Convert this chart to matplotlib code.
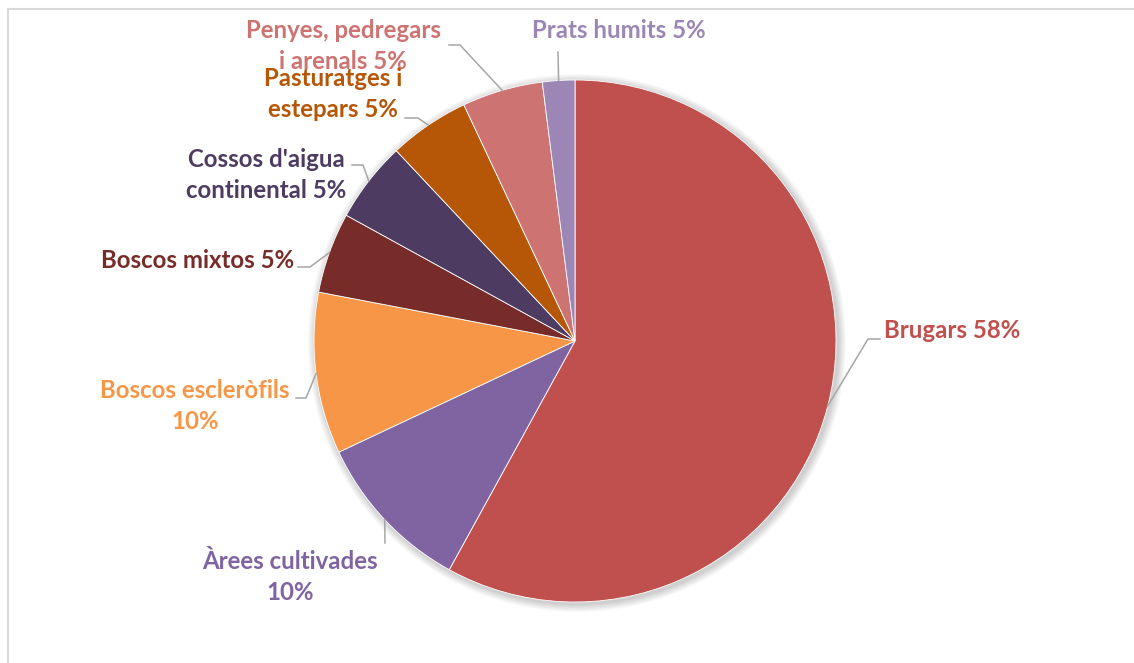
import matplotlib
matplotlib.use("Agg")
import matplotlib.pyplot as plt
from matplotlib.patches import Circle
from matplotlib.lines import Line2D
import numpy as np

# slices, clockwise from 12 o'clock
categories = ["Brugars", "Àrees cultivades", "Boscos escleròfils", "Boscos mixtos",
              "Cossos d'aigua continental", "Pasturatges i estepars",
              "Penyes, pedregars i arenals", "Prats humits"]
values = [58, 10, 10, 5, 5, 5, 5, 2]
label_texts = ["Brugars 58%", "Àrees cultivades\n10%", "Boscos escleròfils\n10%",
               "Boscos mixtos 5%", "Cossos d'aigua\ncontinental 5%",
               "Pasturatges i\nestepars 5%", "Penyes, pedregars\ni arenals 5%",
               "Prats humits 5%"]
colors = ["#C0504D", "#8064A2", "#F79646", "#772C2A",
          "#4D3B62", "#B65708", "#CD7371", "#9B86B6"]

W, H = 1134, 663
cx, cy, R = 575, 341, 261  # pixel coords, y from top

# label layout in pixels (y from top): text x, text y, alignment, leader elbow points
label_pos = [(884, 331, "left"), (290, 577, "center"), (195, 406, "center"),
             (294, 260, "right"), (266, 175, "center"), (333, 94, "center"),
             (343, 46, "center"), (619, 31, "center")]
leader_pts = [[(868, 339), (880, 339)], [(385, 543)], [(306, 398), (296, 398)],
              [(310, 267), (298, 267)], [(363, 165), (352, 165)],
              [(418, 118), (405, 118)], [(460, 45), (449, 45)], [(558, 52)]]

fig = plt.figure(figsize=(W / 100, H / 100), dpi=100)
ax = fig.add_axes([0, 0, 1, 1])

# chart frame (only top and left edges visible)
fig.add_artist(Line2D([8 / W, 1.01], [1 - 9 / H, 1 - 9 / H], transform=fig.transFigure,
                      color="#D9D9D9", lw=1.5))
fig.add_artist(Line2D([8 / W, 8 / W], [1 - 9 / H, -0.01], transform=fig.transFigure,
                      color="#D9D9D9", lw=1.5))

# soft shadow
for k in range(8, 0, -1):
    ax.add_patch(Circle((cx + 2, H - cy - 2), R + k, color="#000000", alpha=0.025, lw=0, zorder=1))

wedges, _ = ax.pie(values, colors=colors, startangle=90, counterclock=False,
                   center=(cx, H - cy), radius=R, frame=True,
                   wedgeprops=dict(edgecolor="white", linewidth=0.6, zorder=2))
ax.set_xlim(0, W)
ax.set_ylim(0, H)
ax.set_aspect("equal")
ax.axis("off")

font = dict(family=["Lato", "DejaVu Sans"], fontweight="bold", fontsize=17.3)
for w, txt, col, (tx, ty, ha), pts in zip(wedges, label_texts, colors, label_pos, leader_pts):
    mid = np.deg2rad((w.theta1 + w.theta2) / 2)
    ex, ey = cx + R * np.cos(mid), (H - cy) + R * np.sin(mid)
    xs = [ex] + [p[0] for p in pts]
    ys = [ey] + [H - p[1] for p in pts]
    ax.plot(xs, ys, color="#A6A6A6", lw=1.1, zorder=3)
    ax.text(tx, H - ty, txt, color=col, ha=ha, va="center", multialignment="center",
            linespacing=1.38, zorder=4, **font)

fig.savefig("out.png", dpi=100)
